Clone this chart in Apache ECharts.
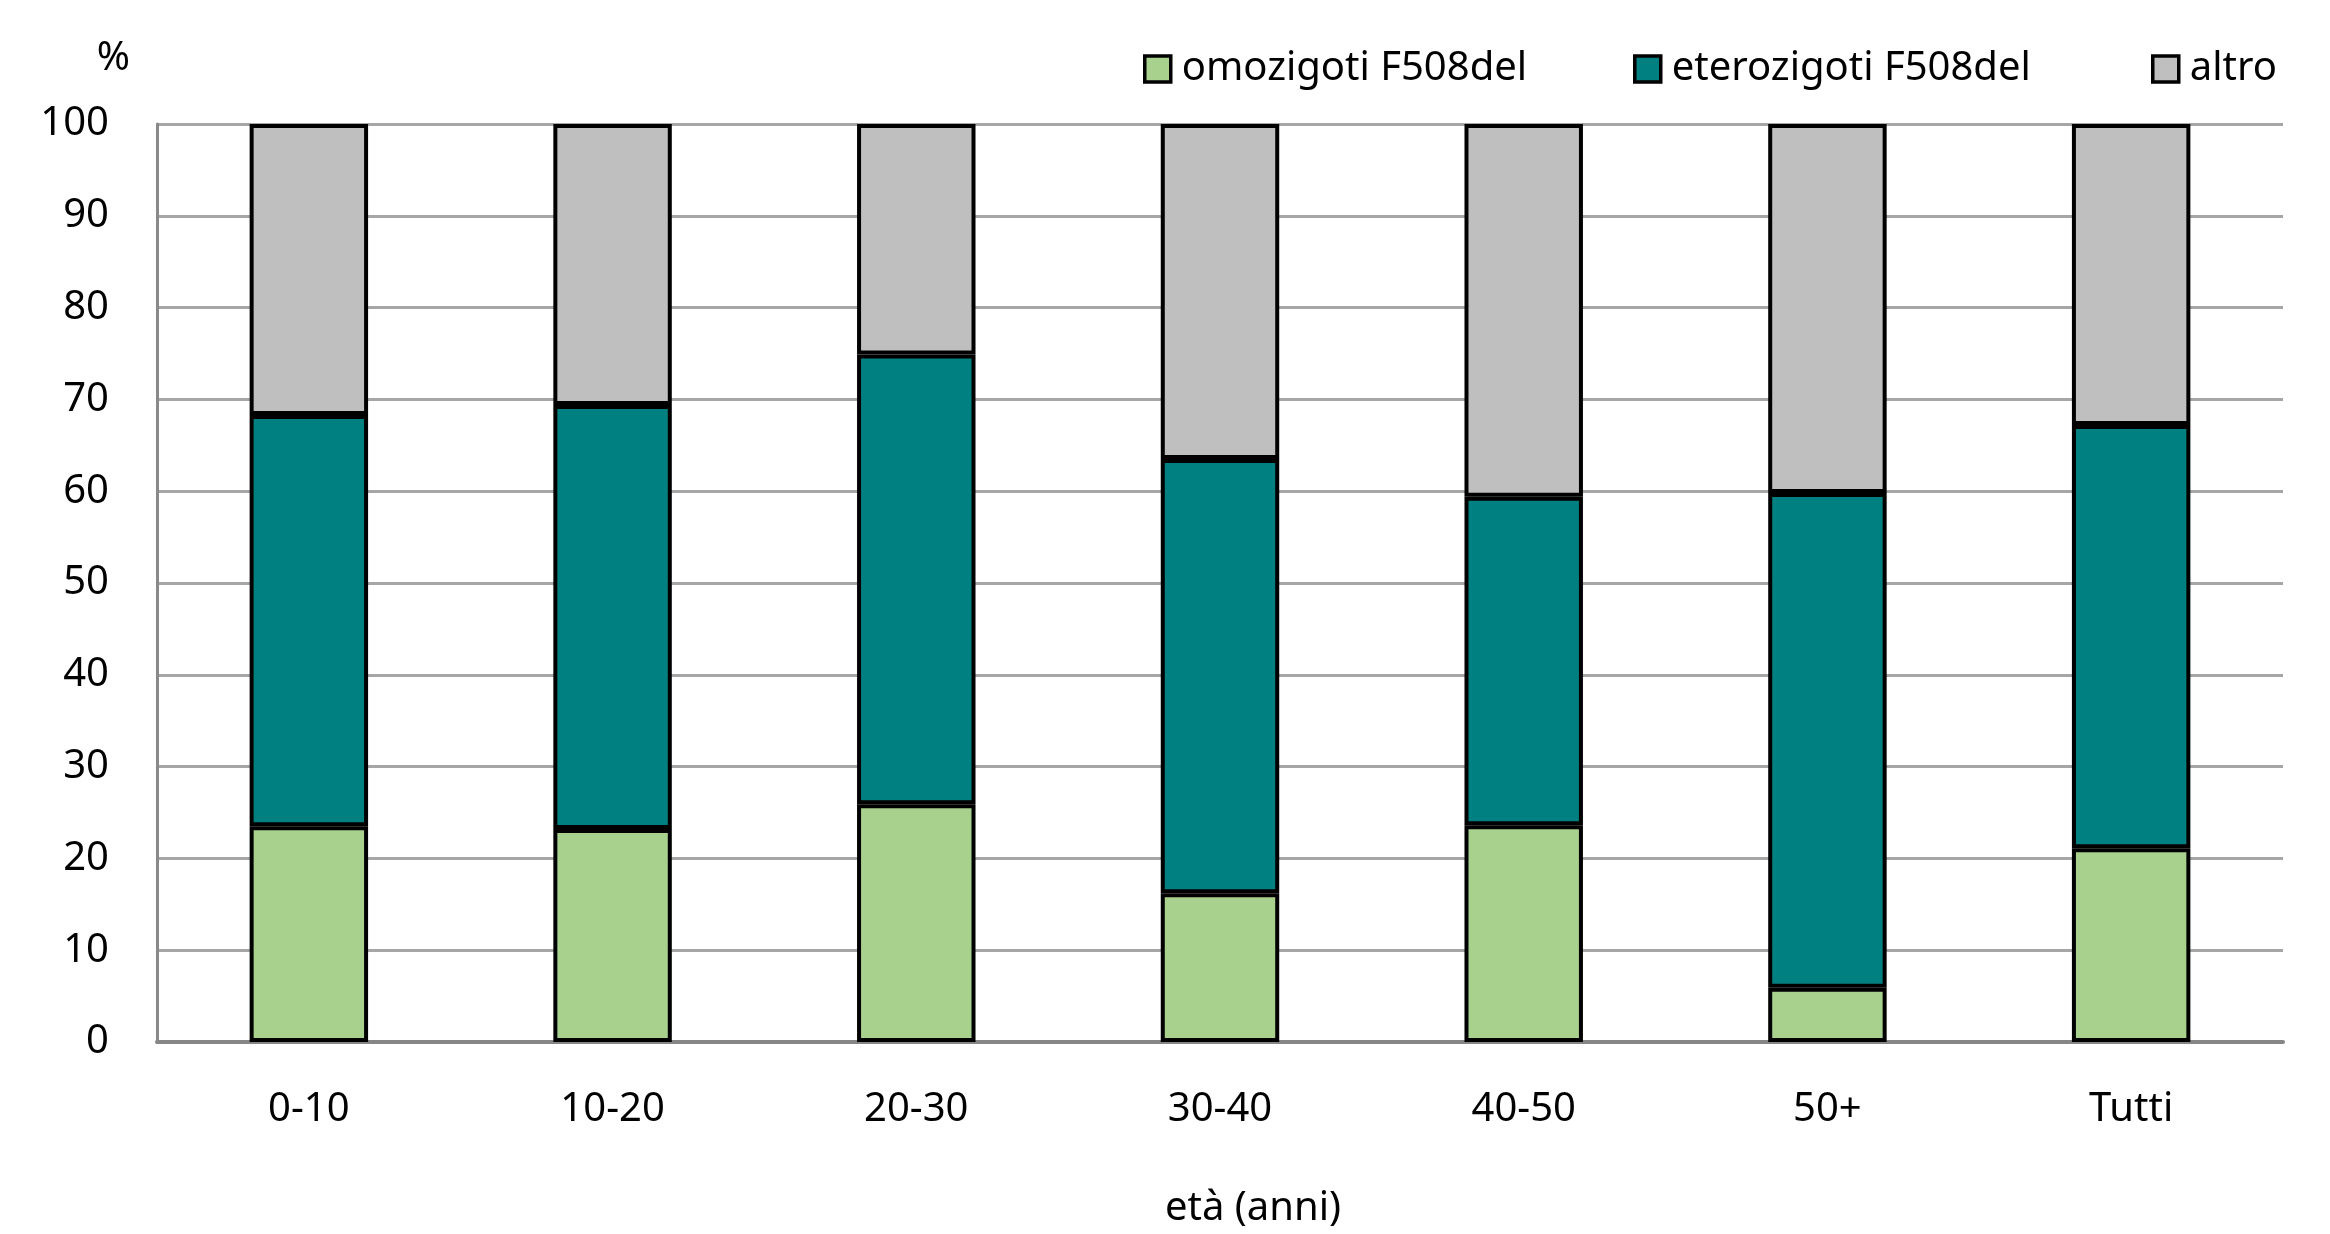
<!DOCTYPE html>
<html>
<head>
<meta charset="utf-8">
<script src="https://cdn.jsdelivr.net/npm/echarts@6/dist/echarts.min.js"></script>
<style>html,body{margin:0;padding:0;background:#fff}#c{width:2330px;height:1234px}</style>
</head>
<body>
<div id="c"></div>
<script>
const categories = ['0-10', '10-20', '20-30', '30-40', '40-50', '50+', 'Tutti'];
const omozigoti = [23.5, 23.2, 25.9, 16.2, 23.6, 5.9, 21.1];
const eterozigoti = [44.8, 46.2, 49.0, 47.3, 35.8, 53.9, 46.1];
const altro = [31.7, 30.6, 25.1, 36.5, 40.6, 40.2, 32.8];
const seriesNames = ['omozigoti F508del', 'eterozigoti F508del', 'altro'];
const yTicks = { min: 0, max: 100, interval: 10 };

const FONT = 'Noto Sans';
const colors = ['#A9D18E', '#008080', '#BFBFBF'];
const chart = echarts.init(document.getElementById('c'));

function legend(name, left) {
  return {
    data: [name], left: left, top: 44, itemWidth: 26, itemHeight: 26,
    icon: 'rect',
    itemStyle: { borderColor: '#000', borderWidth: 3.5 },
    textStyle: { fontFamily: FONT, fontSize: 40, color: '#000', padding: [0, 0, 0, 6] },
    selectedMode: false
  };
}

const dataArr = [omozigoti, eterozigoti, altro];
chart.setOption({
  animation: false,
  textStyle: { fontFamily: FONT },
  legend: [legend(seriesNames[0], 1138), legend(seriesNames[1], 1628), legend(seriesNames[2], 2146)],
  grid: { left: 157, right: 47, top: 124, bottom: 188, containLabel: false },
  xAxis: {
    type: 'category', data: categories,
    axisLine: { lineStyle: { color: '#868686', width: 4 } },
    axisTick: { show: false },
    axisLabel: { fontFamily: FONT, fontSize: 40, color: '#000', margin: 48 },
    name: 'età (anni)', nameLocation: 'middle', nameGap: 147,
    nameTextStyle: { fontFamily: FONT, fontSize: 40, color: '#000', padding: [0, 0, 0, 66] }
  },
  yAxis: {
    type: 'value', min: yTicks.min, max: yTicks.max, interval: yTicks.interval,
    axisLine: { show: true, lineStyle: { color: '#898989', width: 3 } },
    axisTick: { show: false },
    splitLine: { lineStyle: { color: '#A6A6A6', width: 3 } },
    axisLabel: { fontFamily: FONT, fontSize: 40, color: '#000', margin: 48 },
    name: '%', nameLocation: 'end', nameGap: 45,
    nameTextStyle: { fontFamily: FONT, fontSize: 40, color: '#000', align: 'right', padding: [0, 27, 0, 0] }
  },
  series: seriesNames.map((n, i) => ({
    name: n, type: 'bar', stack: 'tot', data: dataArr[i],
    barWidth: '39%',
    itemStyle: { color: colors[i], borderColor: '#000', borderWidth: 4 }
  }))
});
</script>
</body>
</html>
